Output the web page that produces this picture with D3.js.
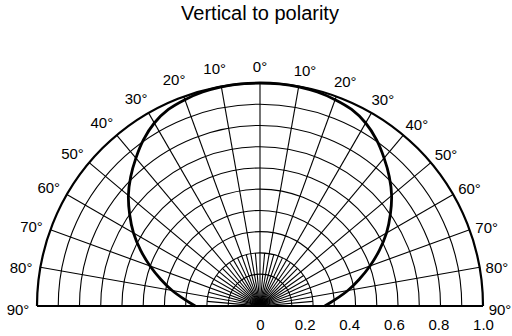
<!DOCTYPE html>
<html>
<head>
<meta charset="utf-8">
<script src="https://cdn.jsdelivr.net/npm/d3@7"></script>
<style>
  html, body { margin: 0; padding: 0; background: #fff; }
  svg text { font-family: "Liberation Sans", Arial, sans-serif; fill: #000; }
</style>
</head>
<body>
<svg id="chart" width="512" height="336"></svg>
<script>
// Relative intensity by emission angle (degrees from the axis, negative = left)
const angles = [-90, -85, -80, -75, -70, -65, -60, -55, -50, -45, -40, -35, -30, -25, -20, -15, -10, -5,
                0, 5, 10, 15, 20, 25, 30, 35, 40, 45, 50, 55, 60, 65, 70, 75, 80, 85, 90];
const intensity = [0.255, 0.307, 0.370, 0.433, 0.501, 0.570, 0.638, 0.699, 0.759, 0.811, 0.859, 0.906, 0.945, 0.971, 0.984, 0.993, 0.998, 1.0,
                   1.0, 1.0, 0.998, 0.993, 0.984, 0.971, 0.945, 0.906, 0.859, 0.811, 0.759, 0.699, 0.638, 0.570, 0.501, 0.433, 0.370, 0.307, 0.255];

// Grid definition
const ringValues = [0.1, 0.2, 0.3, 0.4, 0.5, 0.6, 0.7, 0.8, 0.9, 1.0];
const majorSpokes = [-90, -80, -70, -60, -50, -40, -30, -20, -10, 0, 10, 20, 30, 40, 50, 60, 70, 80, 90];
const minorSpokes = [-85, -75, -65, -55, -45, -35, -25, -15, -5, 5, 15, 25, 35, 45, 55, 65, 75, 85];
const angleLabels = [-90, -80, -70, -60, -50, -40, -30, -20, -10, 0, 10, 20, 30, 40, 50, 60, 70, 80, 90];
const radialTicks = [0, 0.2, 0.4, 0.6, 0.8, 1.0];

const title = "Vertical to polarity";

const svg = d3.select("#chart");
const cx = 260, cy = 306, R = 223;

const rad = d => d * Math.PI / 180;
const r = d3.scaleLinear().domain([-0.05, 1]).range([0, R]);
const tickScale = d3.scaleLinear().domain([0, 1]).range([cx, cx + R]);

const g = svg.append("g").attr("transform", `translate(${cx},${cy})`);

// concentric rings
g.append("g").selectAll("path").data(ringValues).join("path")
  .attr("d", v => { const p = d3.path(); p.arc(0, 0, r(v), Math.PI, 2 * Math.PI); return p.toString(); })
  .attr("fill", "none").attr("stroke", "#000")
  .attr("stroke-width", v => v === 1 ? 2.2 : 1.1);

// spokes every 10 degrees, run to the rim
g.append("g").selectAll("line").data(majorSpokes).join("line")
  .attr("x1", 0).attr("y1", 0)
  .attr("x2", a => r(1) * Math.sin(rad(a)))
  .attr("y2", a => -r(1) * Math.cos(rad(a)))
  .attr("stroke", "#000").attr("stroke-width", 1.1);

// intermediate spokes near the centre
g.append("g").selectAll("line").data(minorSpokes).join("line")
  .attr("x1", 0).attr("y1", 0)
  .attr("x2", a => r(0.2) * Math.sin(rad(a)))
  .attr("y2", a => -r(0.2) * Math.cos(rad(a)))
  .attr("stroke", "#000").attr("stroke-width", 1.1);

// baseline
g.append("line")
  .attr("x1", -r(1)).attr("x2", r(1)).attr("y1", 0).attr("y2", 0)
  .attr("stroke", "#000").attr("stroke-width", 2.2);

// radiation pattern
const line = d3.lineRadial()
  .angle((d, i) => rad(angles[i]))
  .radius(d => r(d))
  .curve(d3.curveCatmullRom.alpha(0.5));

g.append("path").datum(intensity)
  .attr("d", line)
  .attr("fill", "none").attr("stroke", "#000")
  .attr("stroke-width", 2.8).attr("stroke-linejoin", "round");

// angle labels round the rim
g.append("g").selectAll("text").data(angleLabels).join("text")
  .attr("x", a => (a < 0 ? 242 : 240) * Math.sin(rad(a + Math.sign(a) * 0.8)))
  .attr("y", a => -(a < 0 ? 242 : 240) * Math.cos(rad(a + Math.sign(a) * 0.8)))
  .attr("text-anchor", "middle")
  .attr("dominant-baseline", "central")
  .attr("font-size", 15)
  .text(a => Math.abs(a) + "\u00B0");

// radial scale labels
const axis = d3.axisBottom(tickScale).tickValues(radialTicks).tickSize(0).tickPadding(0)
  .tickFormat(d => d === 0 ? "0" : d3.format(".1f")(d));
svg.append("g").attr("transform", `translate(0,${cy + 13})`)
  .call(axis)
  .call(s => s.select(".domain").remove())
  .call(s => s.selectAll("text").attr("font-size", 15).attr("font-family", "Liberation Sans, Arial, sans-serif").attr("fill", "#000"));

// title
svg.append("text")
  .attr("x", cx).attr("y", 20)
  .attr("text-anchor", "middle")
  .attr("font-size", 20)
  .text(title);
</script>
</body>
</html>
